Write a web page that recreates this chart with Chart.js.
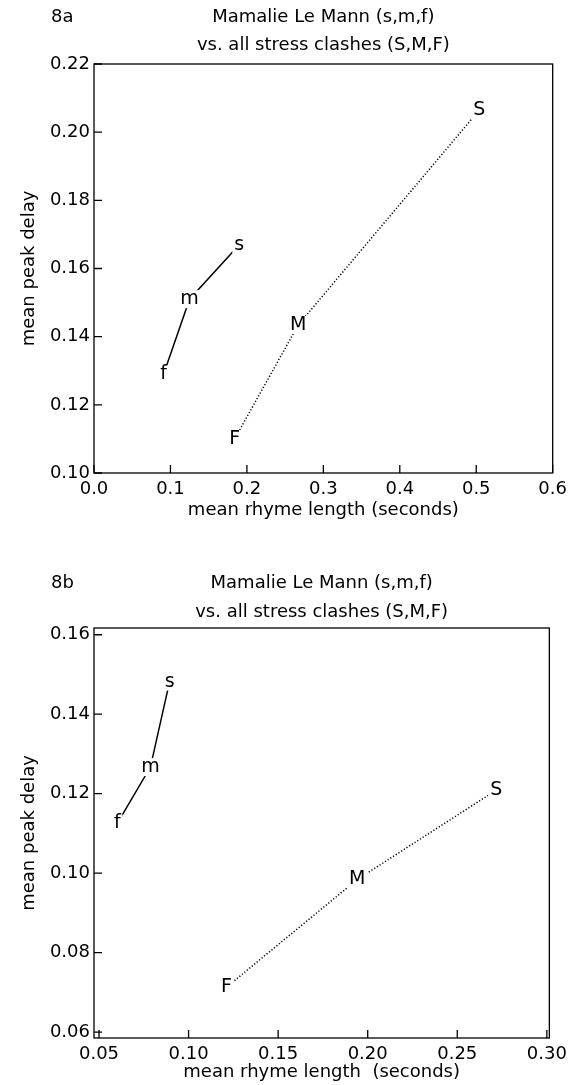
<!DOCTYPE html>
<html>
<head>
<meta charset="utf-8">
<script src="https://cdn.jsdelivr.net/npm/chart.js@4.4.0/dist/chart.umd.min.js"></script>
<style>
  html, body { margin: 0; padding: 0; background: #fff; }
  canvas { display: block; }
</style>
</head>
<body>
<canvas id="chart-a" width="573" height="540"></canvas>
<canvas id="chart-b" width="573" height="545"></canvas>
<script>
const INK = '#000';
const FONT = 'DejaVu Sans';

// shared labels
const titleLines = ['Mamalie Le Mann (s,m,f)', 'vs. all stress clashes (S,M,F)'];
const lowerLetters = ['s', 'm', 'f'];
const upperLetters = ['S', 'M', 'F'];

// 8a
const aLowerX = [0.190, 0.125, 0.091];
const aLowerY = [0.167, 0.151, 0.129];
const aUpperX = [0.504, 0.267, 0.184];
const aUpperY = [0.2065, 0.1434, 0.110];
const aXTicks = [0.0, 0.1, 0.2, 0.3, 0.4, 0.5, 0.6];
const aYTicks = [0.10, 0.12, 0.14, 0.16, 0.18, 0.20, 0.22];

// 8b
const bLowerX = [0.0894, 0.0787, 0.0602];
const bLowerY = [0.1482, 0.1267, 0.1125];
const bUpperX = [0.2718, 0.1942, 0.1212];
const bUpperY = [0.1209, 0.0984, 0.0713];
const bXTicks = [0.05, 0.10, 0.15, 0.20, 0.25, 0.30];
const bYTicks = [0.06, 0.08, 0.10, 0.12, 0.14, 0.16];

const pts = (xs, ys) => xs.map((x, i) => ({ x, y: ys[i] }));

// box, inward tick marks and the two-line heading
const framePlugin = {
  id: 'frame',
  afterDraw(chart, args, opts) {
    const { ctx, chartArea: a, scales } = chart;
    ctx.save();
    ctx.strokeStyle = INK;
    ctx.lineWidth = 1.3;
    ctx.strokeRect(a.left, a.top, a.right - a.left, a.bottom - a.top);
    ctx.beginPath();
    scales.x.ticks.forEach(t => {
      const px = scales.x.getPixelForValue(t.value);
      ctx.moveTo(px, a.bottom);
      ctx.lineTo(px, a.bottom - 8);
    });
    scales.y.ticks.forEach(t => {
      const py = scales.y.getPixelForValue(t.value);
      ctx.moveTo(a.left, py);
      ctx.lineTo(a.left + 8, py);
    });
    ctx.stroke();

    ctx.fillStyle = INK;
    ctx.font = `18px "${FONT}"`;
    ctx.textBaseline = 'middle';
    ctx.textAlign = 'left';
    ctx.fillText(opts.tag, 51, opts.y1);
    ctx.textAlign = 'center';
    const cx = (a.left + a.right) / 2;
    ctx.fillText(titleLines[0], cx, opts.y1);
    ctx.fillText(titleLines[1], cx, opts.y2);
    ctx.restore();
  }
};

// letters sit on the points, with a white patch so the lines stop short of them
const letterPlugin = {
  id: 'letters',
  afterDatasetsDraw(chart) {
    const { ctx } = chart;
    ctx.save();
    ctx.font = `19px "${FONT}"`;
    ctx.textAlign = 'center';
    ctx.textBaseline = 'middle';
    chart.data.datasets.forEach((ds, i) => {
      chart.getDatasetMeta(i).data.forEach((pt, j) => {
        const txt = ds.letters[j];
        const w = ctx.measureText(txt).width;
        ctx.fillStyle = '#fff';
        ctx.fillRect(pt.x - w / 2 - 2, pt.y - 9, w + 4, 18);
        ctx.fillStyle = INK;
        ctx.fillText(txt, pt.x, pt.y);
      });
    });
    ctx.restore();
  }
};

function makeChart(id, cfg) {
  const tickFont = { family: FONT, size: 18 };
  return new Chart(document.getElementById(id), {
    type: 'line',
    data: {
      datasets: [
        {
          data: pts(cfg.lowerX, cfg.lowerY),
          letters: lowerLetters,
          borderColor: INK,
          borderWidth: 1.5,
          pointRadius: 0,
          tension: 0,
        },
        {
          data: pts(cfg.upperX, cfg.upperY),
          letters: upperLetters,
          borderColor: INK,
          borderWidth: 1.5,
          borderDash: [1.2, 2],
          pointRadius: 0,
          tension: 0,
        },
      ],
    },
    plugins: [framePlugin, letterPlugin],
    options: {
      responsive: false,
      animation: false,
      layout: { padding: cfg.padding },
      plugins: {
        legend: { display: false },
        tooltip: { enabled: false },
        frame: { tag: cfg.tag, y1: cfg.headY[0], y2: cfg.headY[1] },
      },
      scales: {
        x: {
          type: 'linear',
          min: cfg.xMin,
          max: cfg.xMax,
          afterBuildTicks: s => { s.ticks = cfg.xTicks.map(v => ({ value: v })); },
          afterFit: s => { s.height = cfg.xAxisH; },
          grid: { display: false, drawTicks: false },
          border: { display: false },
          ticks: {
            color: INK, font: tickFont, padding: 6,
            maxRotation: 0, autoSkip: false,
            callback: v => v.toFixed(cfg.xDigits),
          },
          title: {
            display: true, text: cfg.xTitle, color: INK,
            font: tickFont, padding: { top: 0, bottom: cfg.xTitlePad },
          },
        },
        y: {
          type: 'linear',
          min: cfg.yMin,
          max: cfg.yMax,
          afterBuildTicks: s => { s.ticks = cfg.yTicks.map(v => ({ value: v })); },
          afterFit: s => { s.width = 94; },
          grid: { display: false, drawTicks: false },
          border: { display: false },
          ticks: {
            color: INK, font: tickFont, padding: 4,
            callback: v => v.toFixed(2),
          },
          title: {
            display: true, text: 'mean peak delay', color: INK,
            font: tickFont, padding: { top: 19, bottom: 0 },
          },
        },
      },
    },
  });
}

makeChart('chart-a', {
  tag: '8a', headY: [17, 45],
  lowerX: aLowerX, lowerY: aLowerY, upperX: aUpperX, upperY: aUpperY,
  xMin: 0, xMax: 0.6, yMin: 0.10, yMax: 0.22,
  xTicks: aXTicks, yTicks: aYTicks, xDigits: 1,
  padding: { left: 0, right: 20, top: 64, bottom: 0 },
  xAxisH: 67, xTitlePad: 19,
  xTitle: 'mean rhyme length (seconds)',
});

makeChart('chart-b', {
  tag: '8b', headY: [43, 72],
  lowerX: bLowerX, lowerY: bLowerY, upperX: bUpperX, upperY: bUpperY,
  xMin: 0.0472, xMax: 0.3014, yMin: 0.0585, yMax: 0.1617,
  xTicks: bXTicks, yTicks: bYTicks, xDigits: 2,
  padding: { left: 0, right: 22, top: 88, bottom: 0 },
  xAxisH: 47, xTitlePad: 2,
  xTitle: 'mean rhyme length  (seconds)',
});
</script>
</body>
</html>
